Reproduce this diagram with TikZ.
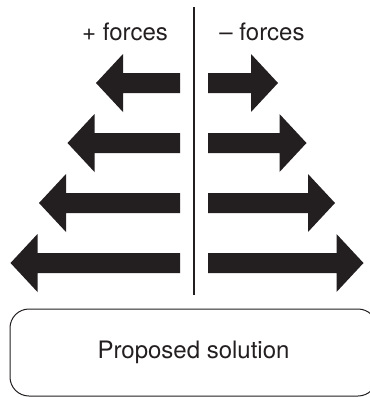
\documentclass[tikz,border=0pt]{standalone}
\usepackage{fontspec}
\setmainfont{TeX Gyre Heros}
\usetikzlibrary{positioning}
\definecolor{inkblack}{HTML}{231F20}

\begin{document}
\begin{tikzpicture}[
  x=1pt, y=-1pt,
  label/.style = {font=\fontsize{24}{28}\selectfont, text=inkblack, inner sep=0pt},
  force/.style = {fill=inkblack},
  frame/.style = {draw=inkblack, line width=1pt, rounded corners=19pt,
                  minimum width=367pt, minimum height=87pt},
]
  \useasboundingbox (0,0) rectangle (370,397);
  \clip (0,0) rectangle (370,397);

  % divider between the two sides
  \coordinate (dtop) at (194,7);
  \coordinate (dbot) at (194,295);
  \draw[inkblack, line width=2pt] (dtop) -- (dbot);

  \node[label, anchor=base] (plus)  at (125,40) {+ forces};
  \node[label, anchor=base] (minus) at (262,40) {– forces};

  % one pair of arrows per row, longer going down
  \foreach \i in {0,...,3} {
    \pgfmathsetmacro{\yc}{83+60*\i}
    \pgfmathsetmacro{\lt}{96-28.5*\i}
    \pgfmathsetmacro{\rt}{278+28.5*\i}
    \fill[force] (180,{\yc-10}) -- ({\lt+27},{\yc-10}) -- ({\lt+27},{\yc-29})
      -- (\lt,\yc) -- ({\lt+27},{\yc+29}) -- ({\lt+27},{\yc+10})
      -- (180,{\yc+10}) -- cycle;
    \fill[force] (208,{\yc-10}) -- ({\rt-27},{\yc-10}) -- ({\rt-27},{\yc-29})
      -- (\rt,\yc) -- ({\rt-27},{\yc+29}) -- ({\rt-27},{\yc+10})
      -- (208,{\yc+10}) -- cycle;
  }

  \node[frame, label] (solution) at (193.5,352.5) {Proposed solution};
\end{tikzpicture}
\end{document}
